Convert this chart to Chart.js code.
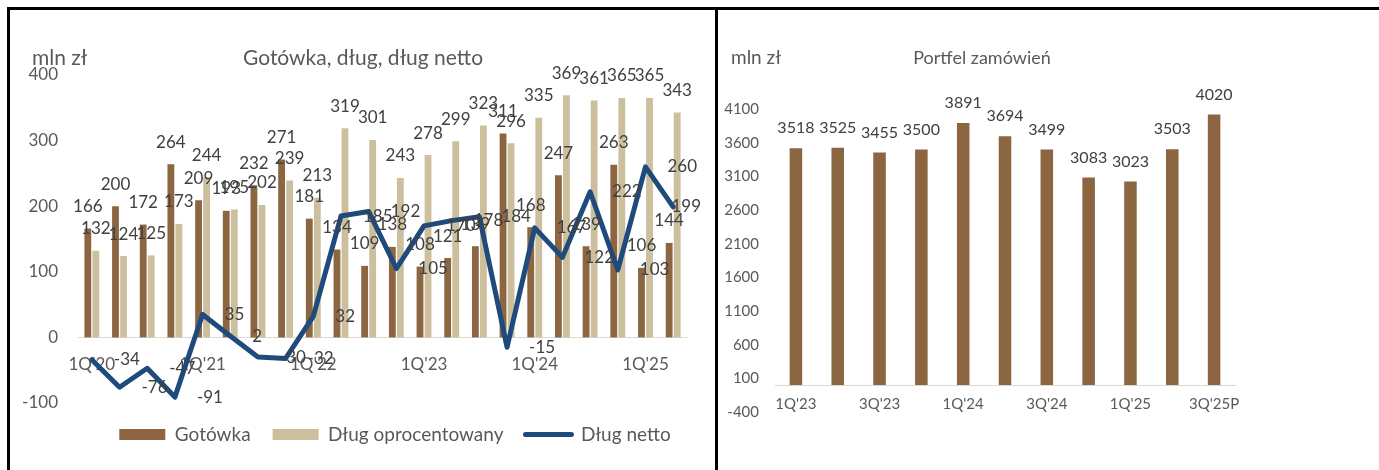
<!DOCTYPE html>
<html><head><meta charset="utf-8">
<script src="https://cdn.jsdelivr.net/npm/chart.js@4.4.0/dist/chart.umd.min.js"></script>
<style>
html,body{margin:0;padding:0;background:#fff;}
body{width:1379px;height:470px;position:relative;overflow:hidden;font-family:Lato,sans-serif;}
#c1{position:absolute;left:0;top:0;width:790px;height:470px;}
#c2{position:absolute;left:716px;top:0;width:663px;height:470px;}
.ln{position:absolute;background:#000;}
</style></head><body>
<canvas id="c1" width="790" height="470"></canvas>
<canvas id="c2" width="663" height="470"></canvas>
<div class="ln" style="left:7px;top:7px;width:1372px;height:3px"></div>
<div class="ln" style="left:7px;top:7px;width:3px;height:463px"></div>
<div class="ln" style="left:715px;top:7px;width:3px;height:463px"></div>
<script>
// ---- data: left chart ----
const quarters = ["1Q'20","2Q'20","3Q'20","4Q'20","1Q'21","2Q'21","3Q'21","4Q'21","1Q'22","2Q'22","3Q'22","4Q'22","1Q'23","2Q'23","3Q'23","4Q'23","1Q'24","2Q'24","3Q'24","4Q'24","1Q'25","2Q'25"];
const gotowka = [166,200,172,264,209,193,232,271,181,134,109,138,108,121,139,311,168,247,139,263,106,144];
const dlugOproc = [132,124,125,173,244,195,202,239,213,319,301,243,278,299,323,296,335,369,361,365,365,343];
const dlugNetto = [-34,-76,-47,-91,35,2,-30,-32,32,185,192,105,170,178,184,-15,167,122,222,103,260,199];
const leftTitle = "Gotówka, dług, dług netto";
const leftUnit = "mln zł";
const leftSeriesNames = ["Gotówka","Dług oprocentowany","Dług netto"];

// ---- data: right chart ----
const portfelQuarters = ["1Q'23","2Q'23","3Q'23","4Q'23","1Q'24","2Q'24","3Q'24","4Q'24","1Q'25","2Q'25","3Q'25P"];
const portfel = [3518,3525,3455,3500,3891,3694,3499,3083,3023,3503,4020];
const rightTitle = "Portfel zamówień";
const rightUnit = "mln zł";

const BROWN = '#8B6640', TAN = '#CBBF9E', NAVY = '#1F4A7C';
const GREY = '#595959', LABEL = '#404040', AXIS = '#D9D9D9';
const FONT = 'Lato, sans-serif';

const valueLabels = {
  id: 'valueLabels',
  afterDatasetsDraw(chart, args, o) {
    const ctx = chart.ctx, ca = chart.chartArea;
    chart.data.datasets.forEach((ds, di) => {
      if (!ds.valueLabel) return;
      const meta = chart.getDatasetMeta(di);
      ctx.save();
      ctx.font = o.size + 'px ' + FONT;
      ctx.fillStyle = LABEL;
      ctx.textBaseline = 'middle';
      meta.data.forEach((el, i) => {
        const t = String(ds.data[i]);
        if (ds.valueLabel === 'top') {
          ctx.textAlign = 'center';
          ctx.fillText(t, el.x, el.y - o.gap);
        } else {
          ctx.textAlign = 'left';
          const w = ctx.measureText(t).width;
          let tx = el.x + o.dx;
          if (tx + w > ca.right + 14) tx = ca.right + 14 - w;
          ctx.fillText(t, tx, el.y);
        }
      });
      ctx.restore();
    });
  }
};

const headings = {
  id: 'headings',
  afterDraw(chart, args, o) {
    const ctx = chart.ctx;
    ctx.save();
    ctx.fillStyle = GREY;
    ctx.textBaseline = 'middle';
    ctx.textAlign = 'left';
    ctx.font = o.unitSize + 'px ' + FONT;
    ctx.fillText(o.unit, o.unitX, o.y);
    ctx.textAlign = 'center';
    ctx.font = o.titleSize + 'px ' + FONT;
    ctx.fillText(o.title, o.titleX, o.y);
    ctx.restore();
  }
};

new Chart(document.getElementById('c1'), {
  type: 'bar',
  data: {
    labels: quarters,
    datasets: [
      {label: leftSeriesNames[0], data: gotowka, backgroundColor: BROWN, order: 1, valueLabel: 'top',
       categoryPercentage: 0.58, barPercentage: 0.85},
      {label: leftSeriesNames[1], data: dlugOproc, backgroundColor: TAN, order: 1, valueLabel: 'top',
       categoryPercentage: 0.58, barPercentage: 0.85},
      {type: 'line', label: leftSeriesNames[2], data: dlugNetto, borderColor: NAVY, backgroundColor: NAVY,
       borderWidth: 5, pointRadius: 0, tension: 0, borderJoinStyle: 'round', borderCapStyle: 'round',
       order: 0, valueLabel: 'right'}
    ]
  },
  options: {
    responsive: false, animation: false, devicePixelRatio: 1,
    layout: {padding: {left: 0, right: 0, top: 75, bottom: 16}},
    scales: {
      x: {
        position: {y: 0},
        grid: {display: false, drawTicks: false},
        border: {display: true, color: AXIS, width: 1},
        ticks: {autoSkip: false, maxRotation: 0, minRotation: 0, padding: 17, color: GREY,
                font: {family: FONT, size: 17},
                callback: (v, i) => (i % 4 === 0 ? quarters[i] : '')}
      },
      y: {
        min: -100, max: 400,
        grid: {display: false, drawTicks: false},
        border: {display: false},
        ticks: {stepSize: 100, padding: 20, color: GREY, font: {family: FONT, size: 17}},
        afterFit: s => { s.width = 78; }
      },
      yR: {
        type: 'linear', position: 'right', display: true,
        grid: {display: false, drawTicks: false}, border: {display: false},
        ticks: {display: false},
        afterFit: s => { s.width = 103; }
      }
    },
    plugins: {
      tooltip: {enabled: false},
      legend: {
        position: 'bottom', align: 'center',
        labels: {
          usePointStyle: true, pointStyleWidth: 46, boxHeight: 11, padding: 22,
          color: GREY, font: {family: FONT, size: 19},
          generateLabels: chart => chart.data.datasets.map((ds, i) => ({
            text: ds.label, datasetIndex: i, hidden: false, fontColor: GREY,
            fillStyle: ds.type === 'line' ? ds.borderColor : ds.backgroundColor,
            strokeStyle: ds.type === 'line' ? ds.borderColor : ds.backgroundColor,
            lineWidth: ds.type === 'line' ? 5 : 0,
            lineCap: 'round',
            pointStyle: ds.type === 'line' ? 'line' : 'rect'
          })),
          sort: (a, b) => a.datasetIndex - b.datasetIndex
        }
      },
      valueLabels: {size: 17, gap: 22, dx: 22},
      headings: {title: leftTitle, unit: leftUnit, titleX: 363, unitX: 32, y: 58, titleSize: 21, unitSize: 21}
    }
  },
  plugins: [valueLabels, headings]
});

new Chart(document.getElementById('c2'), {
  type: 'bar',
  data: {
    labels: portfelQuarters,
    datasets: [
      {label: rightTitle, data: portfel, backgroundColor: BROWN, valueLabel: 'top',
       categoryPercentage: 1, barPercentage: 0.3}
    ]
  },
  options: {
    responsive: false, animation: false, devicePixelRatio: 1,
    layout: {padding: {left: 0, right: 144, top: 109, bottom: 58}},
    scales: {
      x: {
        position: {y: 0},
        grid: {display: false, drawTicks: false},
        border: {display: true, color: AXIS, width: 1},
        ticks: {autoSkip: false, maxRotation: 0, minRotation: 0, padding: 10, color: GREY,
                font: {family: FONT, size: 15},
                callback: (v, i) => (i % 2 === 0 ? portfelQuarters[i] : '')}
      },
      y: {
        min: -400, max: 4100,
        grid: {display: false, drawTicks: false},
        border: {display: false},
        ticks: {stepSize: 500, padding: 16, color: GREY, font: {family: FONT, size: 15},
                callback: v => String(v)},
        afterFit: s => { s.width = 59; }
      }
    },
    plugins: {
      tooltip: {enabled: false},
      legend: {display: false},
      valueLabels: {size: 16, gap: 20, dx: 20},
      headings: {title: rightTitle, unit: rightUnit, titleX: 266, unitX: 15, y: 58, titleSize: 18, unitSize: 19}
    }
  },
  plugins: [valueLabels, headings]
});
</script>
</body></html>
